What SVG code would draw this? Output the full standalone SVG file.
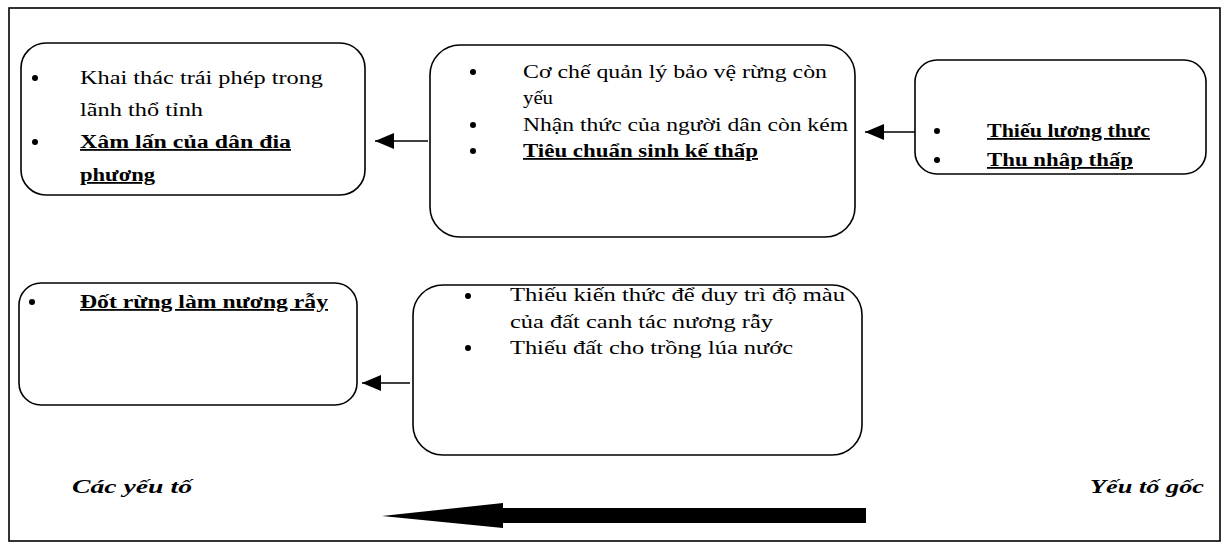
<svg xmlns="http://www.w3.org/2000/svg" width="1223" height="545" viewBox="0 0 1223 545">
<style>
.box{fill:#fff;stroke:#000;stroke-width:1.6}
.t{font-family:"Liberation Serif","Times New Roman",serif;font-size:18px;fill:#000}
.u{font-weight:bold;text-decoration:underline}
.lbl{font-family:"Liberation Serif","Times New Roman",serif;font-size:19px;font-weight:bold;font-style:italic;fill:#000}
.dot{fill:#000}
.conn{stroke:#000;stroke-width:1.5;fill:none}
</style>
<defs>
<marker id="ah" markerUnits="userSpaceOnUse" markerWidth="20" markerHeight="16" refX="19" refY="8" orient="auto">
<path d="M0,0 L19,8 L0,16 Z" fill="#000"/>
</marker>
</defs>
<rect x="9" y="8" width="1211" height="533" fill="#fff" stroke="#000" stroke-width="1.6"/>
<g id="n1">
<rect class="box" x="21" y="43" width="344" height="152" rx="25"/>
<circle class="dot" cx="35" cy="78" r="3"/>
<circle class="dot" cx="35" cy="142" r="3"/>
<text class="t" x="80" y="84" textLength="243" lengthAdjust="spacingAndGlyphs">Khai thác trái phép trong</text>
<text class="t" x="80" y="116" textLength="123" lengthAdjust="spacingAndGlyphs">lãnh thổ tỉnh</text>
<text class="t u" x="80" y="148" textLength="211" lengthAdjust="spacingAndGlyphs">Xâm lấn của dân đia</text>
<text class="t u" x="80" y="181" textLength="75" lengthAdjust="spacingAndGlyphs">phương</text>
</g>
<g id="n2">
<rect class="box" x="430" y="45" width="425" height="192" rx="30"/>
<circle class="dot" cx="473" cy="72" r="3"/>
<circle class="dot" cx="473" cy="125" r="3"/>
<circle class="dot" cx="473" cy="151" r="3"/>
<text class="t" x="523" y="78" textLength="304" lengthAdjust="spacingAndGlyphs">Cơ chế quản lý bảo vệ rừng còn</text>
<text class="t" x="523" y="104" textLength="30" lengthAdjust="spacingAndGlyphs">yếu</text>
<text class="t" x="523" y="131" textLength="325" lengthAdjust="spacingAndGlyphs">Nhận thức của người dân còn kém</text>
<text class="t u" x="523" y="157" textLength="235" lengthAdjust="spacingAndGlyphs">Tiêu chuẩn sinh kế thấp</text>
</g>
<g id="n3">
<rect class="box" x="915" y="60" width="291" height="114" rx="22"/>
<circle class="dot" cx="937" cy="131" r="3"/>
<circle class="dot" cx="937" cy="160" r="3"/>
<text class="t u" x="987" y="137" textLength="163" lengthAdjust="spacingAndGlyphs">Thiếu lương thưc</text>
<text class="t u" x="987" y="166" textLength="146" lengthAdjust="spacingAndGlyphs">Thu nhâp thấp</text>
</g>
<g id="n4">
<rect class="box" x="19" y="283" width="338" height="122" rx="22"/>
<circle class="dot" cx="32" cy="302" r="3"/>
<text class="t u" x="80" y="308" textLength="248" lengthAdjust="spacingAndGlyphs">Đốt rừng làm nương rẫy</text>
</g>
<g id="n5">
<rect class="box" x="413" y="285" width="449" height="170" rx="30"/>
<circle class="dot" cx="468" cy="296" r="3"/>
<circle class="dot" cx="468" cy="348" r="3"/>
<text class="t" x="510" y="301" textLength="335" lengthAdjust="spacingAndGlyphs">Thiếu kiến thức để duy trì độ màu</text>
<text class="t" x="510" y="328" textLength="263" lengthAdjust="spacingAndGlyphs">của đất canh tác nương rẫy</text>
<text class="t" x="510" y="354" textLength="283" lengthAdjust="spacingAndGlyphs">Thiếu đất cho trồng lúa nước</text>
</g>
<g id="labels">
<text class="lbl" x="72" y="493" textLength="120" lengthAdjust="spacingAndGlyphs">Các yếu tố</text>
<text class="lbl" x="1090" y="493" textLength="114" lengthAdjust="spacingAndGlyphs">Yếu tố gốc</text>
</g>
<g id="connectors">
<line class="conn" x1="428" y1="141" x2="375" y2="141" marker-end="url(#ah)"/>
<line class="conn" x1="915" y1="132" x2="865" y2="132" marker-end="url(#ah)"/>
<line class="conn" x1="410" y1="383" x2="362" y2="383" marker-end="url(#ah)"/>
<polygon points="382,516 503,503 503,508 866,508 866,523 503,523 503,528" fill="#000"/>
</g>
</svg>
